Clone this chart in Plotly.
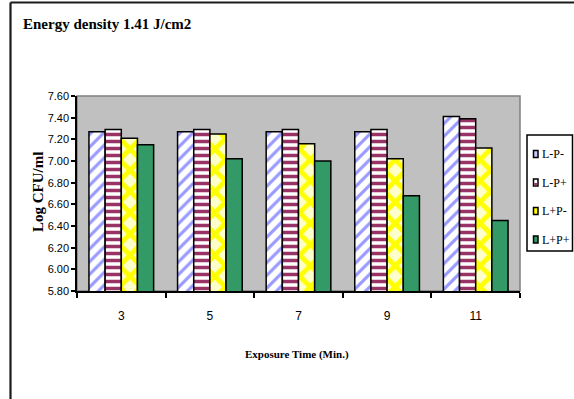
import plotly.graph_objects as go

# Exposure times (minutes) and log CFU/ml for each treatment group
exposure_times = ["3", "5", "7", "9", "11"]
series_names = ["L-P-", "L-P+", "L+P-", "L+P+"]
l_minus_p_minus = [7.27, 7.27, 7.27, 7.27, 7.41]
l_minus_p_plus = [7.29, 7.29, 7.29, 7.29, 7.39]
l_plus_p_minus = [7.21, 7.25, 7.16, 7.02, 7.12]
l_plus_p_plus = [7.15, 7.02, 7.00, 6.68, 6.45]
y_ticks = [5.80, 6.00, 6.20, 6.40, 6.60, 6.80, 7.00, 7.20, 7.40, 7.60]

W, H = 574, 399
L, R, T, B = 77, 54, 96, 108
pw, ph = W - L - R, H - T - B

def px_x(px):
    return (px - L) / pw

def px_y(py):
    return (H - B - py) / ph

sans = "Liberation Sans, Arial, sans-serif"
serif = "Liberation Serif, Times New Roman, serif"

styles = [
    dict(shape="/", fgcolor="#9999FF", bgcolor="#FFFFFF", size=9, solidity=0.35),
    dict(shape="-", fgcolor="#993366", bgcolor="#FFFFFF", size=7, solidity=0.5),
    dict(shape="x", fgcolor="#FFFF00", bgcolor="#FFFFCC", size=15, solidity=0.55),
    None,
]
colors = ["#FFFFFF", "#FFFFFF", "#FFFFCC", "#339966"]
key_colors = ["#C8C8FF", "#FFFFFF", "#FFFF00", "#339966"]
values = [l_minus_p_minus, l_minus_p_plus, l_plus_p_minus, l_plus_p_plus]

fig = go.Figure()
for name, vals, col, pat in zip(series_names, values, colors, styles):
    marker = dict(color=col, line=dict(color="#000000", width=1.5))
    if pat:
        marker["pattern"] = dict(fillmode="replace", **pat)
    fig.add_trace(go.Bar(
        x=exposure_times, y=vals, name=name, showlegend=False,
        marker=marker,
    ))

shapes = [
    # gray frame of the plotting area
    dict(type="rect", xref="paper", yref="paper", x0=0, x1=1, y0=0, y1=1,
         line=dict(color="#808080", width=1.5), fillcolor="rgba(0,0,0,0)", layer="below"),
    # outer chart border (left and top)
    dict(type="line", xref="paper", yref="paper",
         x0=px_x(10.5), x1=px_x(10.5), y0=px_y(405), y1=px_y(2.5),
         line=dict(color="#1a1a1a", width=2.2)),
    dict(type="line", xref="paper", yref="paper",
         x0=px_x(10.5), x1=px_x(580), y0=px_y(2.5), y1=px_y(2.5),
         line=dict(color="#1a1a1a", width=2.2)),
    # legend box
    dict(type="rect", xref="paper", yref="paper",
         x0=px_x(527), x1=px_x(572.5), y0=px_y(251), y1=px_y(135),
         line=dict(color="#000000", width=1.5), fillcolor="#FFFFFF"),
]

annotations = [
    dict(text="<b>Energy density 1.41 J/cm2</b>", xref="paper", yref="paper",
         x=px_x(21), y=px_y(24), xanchor="left", yanchor="middle", showarrow=False,
         font=dict(family=serif, size=15, color="#000000")),
    dict(text="<b>Log CFU/ml</b>", xref="paper", yref="paper",
         x=px_x(38), y=px_y(192), xanchor="center", yanchor="middle",
         textangle=-90, showarrow=False,
         font=dict(family=serif, size=15, color="#000000")),
    dict(text="<b>Exposure Time (Min.)</b>", xref="paper", yref="paper",
         x=px_x(297), y=px_y(354), xanchor="center", yanchor="middle", showarrow=False,
         font=dict(family=serif, size=11, color="#000000")),
]

# legend entries: small keyed squares with series names
entry_y = [154, 182.5, 211, 239.5]
for name, kc, cy in zip(series_names, key_colors, entry_y):
    shapes.append(dict(
        type="rect", xref="paper", yref="paper",
        x0=px_x(533.5), x1=px_x(538), y0=px_y(cy + 3.5), y1=px_y(cy - 3.5),
        line=dict(color="#000000", width=1.5), fillcolor=kc,
    ))
    if name == "L-P+":
        shapes.append(dict(
            type="rect", xref="paper", yref="paper",
            x0=px_x(534.2), x1=px_x(537.3), y0=px_y(cy + 2.8), y1=px_y(cy + 0.5),
            line=dict(width=0), fillcolor="#993366",
        ))
    annotations.append(dict(
        text=name, xref="paper", yref="paper",
        x=px_x(539.5), y=px_y(cy), xanchor="left", yanchor="middle", showarrow=False,
        font=dict(family=serif, size=12, color="#000000"),
    ))

fig.update_layout(
    width=W, height=H,
    margin=dict(l=L, r=R, t=T, b=B, autoexpand=False),
    paper_bgcolor="#FFFFFF",
    plot_bgcolor="#C0C0C0",
    barmode="group",
    bargap=0.27,
    bargroupgap=0,
    showlegend=False,
    shapes=shapes,
    annotations=annotations,
    xaxis=dict(
        type="category", tickson="boundaries", ticks="outside", ticklen=5,
        tickcolor="#000000", tickwidth=1.5, showline=True, linecolor="#000000",
        linewidth=1.5, showgrid=False, ticklabelstandoff=13,
        tickfont=dict(family=sans, size=12, color="#000000"),
    ),
    yaxis=dict(
        range=[5.8, 7.6], tickvals=y_ticks, tickformat=".2f",
        ticks="outside", ticklen=4, tickcolor="#000000", tickwidth=1.5,
        showline=True, linecolor="#000000", linewidth=1.5, showgrid=False,
        zeroline=False,
        tickfont=dict(family=sans, size=11, color="#000000"),
    ),
)

fig.write_html("out.html")
